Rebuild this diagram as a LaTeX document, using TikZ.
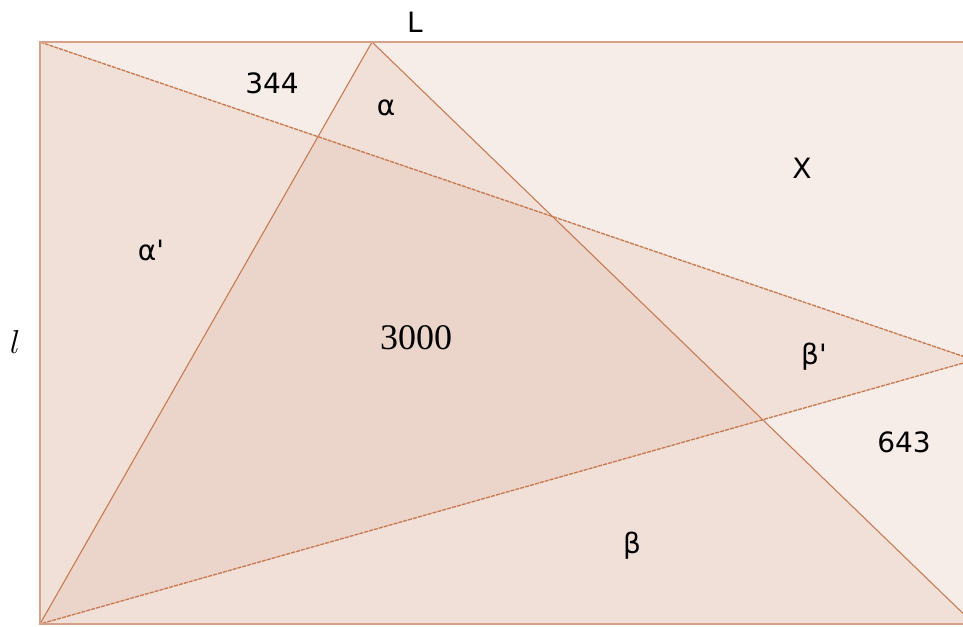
\documentclass[tikz,border=0pt]{standalone}
\usepackage{fontspec}
\newfontfamily\labfont{DejaVu Sans}
\newfontfamily\numfont{Liberation Serif}
\definecolor{edgeC}{HTML}{C8794E}
\definecolor{frameC}{HTML}{D6A287}
\definecolor{paperC}{HTML}{F7EDE8}
\definecolor{shadeC}{HTML}{CF967D}

\begin{document}
\begin{tikzpicture}[x=0.75pt, y=-0.75pt,
    lab/.style={font=\labfont\fontsize{21}{25}\selectfont},
    num/.style={font=\numfont\fontsize{27}{31}\selectfont},
    side/.style={draw=edgeC, line width=0.8pt},
    dside/.style={draw=edgeC, line width=1pt, dash pattern=on 3pt off 0.8pt}]
    % Parameters
    \def\rectL{40}
    \def\rectT{42}
    \def\rectR{974}
    \def\rectB{624}

    \useasboundingbox (0,0) rectangle (963,626);
    \clip (0,0) rectangle (963,626);

    % Corners
    \coordinate (A) at (\rectL,\rectT);
    \coordinate (B) at (\rectL,\rectB);
    \coordinate (C) at (\rectR,\rectB);
    \coordinate (T) at (372,\rectT);
    \coordinate (P) at (\rectR,360);

    % Rectangle
    \fill[paperC] (A) rectangle (C);

    % Triangles
    \fill[shadeC, fill opacity=0.15] (B) -- (T) -- (C) -- cycle;
    \fill[shadeC, fill opacity=0.15] (A) -- (P) -- (B) -- cycle;
    \draw[side] (B) -- (T) -- (C);
    \draw[dside] (A) -- (P) -- (B);

    \draw[frameC, line width=1.5pt] (A) rectangle (C);

    % Labels
    \node[lab] (lL) at (415,22) {L};
    \node[font=\fontsize{27}{31}\selectfont] (ll) at (15,342) {$l$};
    \node[lab] (l344) at (272,83) {344};
    \node[lab] (lalpha) at (386,108) {α};
    \node[lab] (lX) at (802,168) {X};
    \node[lab] (lalphap) at (151,250) {α'};
    \node[num] (l3000) at (416,338) {3000};
    \node[lab] (lbetap) at (814,357) {β'};
    \node[lab] (l643) at (904,442) {643};
    \node[lab] (lbeta) at (632,546) {β};
\end{tikzpicture}
\end{document}
